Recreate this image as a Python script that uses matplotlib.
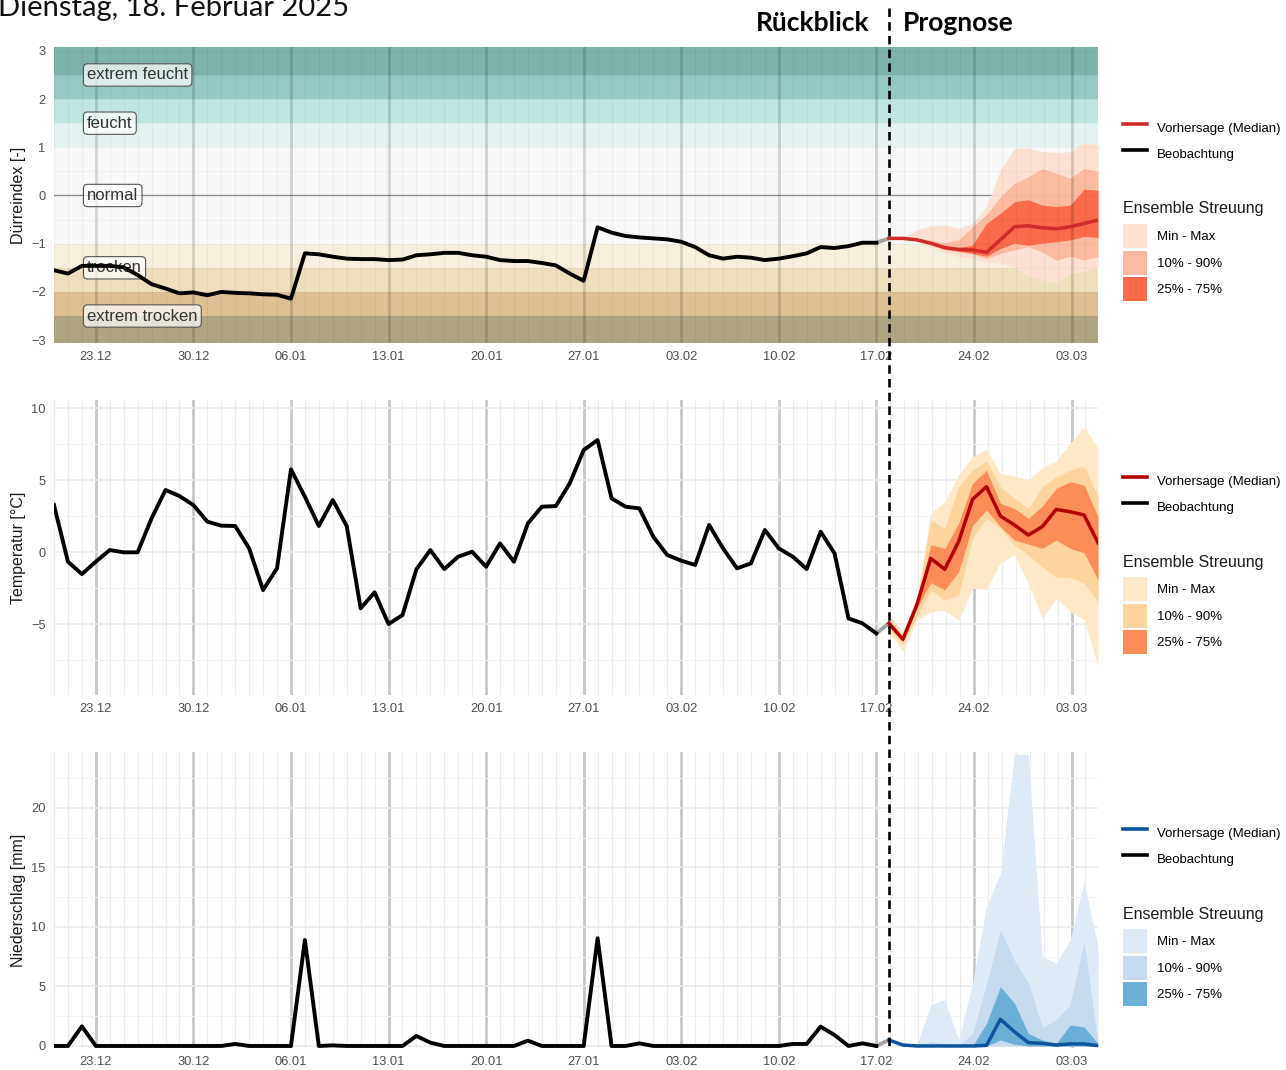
import matplotlib
matplotlib.use('Agg')
import matplotlib.pyplot as plt
import matplotlib.dates as mdates
import matplotlib.transforms as mtransforms
from matplotlib.lines import Line2D
from matplotlib.patches import Patch
import pandas as pd

plt.rcParams['font.family'] = ['Liberation Sans', 'DejaVu Sans']

W, H = 1286, 1070

# --- Daten ---
obs_dates = pd.date_range('2024-12-20', '2025-02-17', freq='D')
fc_dates = pd.date_range('2025-02-17 21:36', periods=16, freq='D')

# Dürreindex
spei_obs = [-1.55, -1.62, -1.46, -1.46, -1.46, -1.49, -1.65, -1.84, -1.93, -2.03,
            -2.01, -2.07, -2.00, -2.02, -2.03, -2.05, -2.06, -2.14, -1.20, -1.22,
            -1.27, -1.31, -1.32, -1.32, -1.34, -1.33, -1.24, -1.22, -1.19, -1.19,
            -1.24, -1.27, -1.34, -1.36, -1.36, -1.40, -1.45, -1.62, -1.77, -0.66,
            -0.77, -0.84, -0.87, -0.89, -0.91, -0.96, -1.07, -1.24, -1.31, -1.27,
            -1.29, -1.34, -1.31, -1.26, -1.20, -1.07, -1.09, -1.05, -0.98, -0.98]
spei_med = [-0.89, -0.89, -0.92, -0.99, -1.08, -1.12, -1.13, -1.18, -0.92, -0.65, -0.63, -0.67, -0.69, -0.65, -0.58, -0.51]
spei_min = [-0.90, -0.92, -0.96, -1.06, -1.19, -1.27, -1.31, -1.38, -1.38, -1.51, -1.68, -1.75, -1.82, -1.62, -1.58, -1.48]
spei_max = [-0.88, -0.86, -0.72, -0.63, -0.61, -0.68, -0.58, -0.23, 0.53, 0.98, 0.98, 0.91, 0.89, 0.91, 1.10, 1.05]
spei_q10 = [-0.895, -0.90, -0.94, -1.03, -1.13, -1.17, -1.21, -1.31, -1.20, -1.13, -1.06, -1.17, -1.34, -1.26, -1.34, -1.27]
spei_q90 = [-0.885, -0.88, -0.89, -0.93, -0.98, -0.92, -0.65, -0.40, -0.02, 0.25, 0.39, 0.56, 0.46, 0.36, 0.56, 0.50]
spei_q25 = [-0.893, -0.895, -0.93, -1.01, -1.11, -1.15, -1.20, -1.26, -1.10, -0.99, -1.03, -0.99, -0.96, -0.92, -0.85, -0.87]
spei_q75 = [-0.887, -0.885, -0.91, -0.97, -1.05, -1.08, -1.03, -0.58, -0.37, -0.13, -0.09, -0.20, -0.23, -0.20, 0.13, 0.11]

# Temperatur
temp_obs = [3.26, -0.67, -1.53, -0.67, 0.14, -0.02, -0.02, 2.34, 4.31, 3.89,
            3.26, 2.11, 1.83, 1.81, 0.25, -2.64, -1.13, 5.74, 3.84, 1.81,
            3.61, 1.81, -3.91, -2.80, -5.00, -4.38, -1.20, 0.14, -1.18, -0.32,
            0.02, -1.02, 0.60, -0.67, 1.99, 3.15, 3.19, 4.77, 7.08, 7.78,
            3.73, 3.15, 3.03, 1.06, -0.21, -0.60, -0.90, 1.88, 0.25, -1.13,
            -0.79, 1.53, 0.25, -0.32, -1.18, 1.41, -0.09, -4.61, -4.95, -5.65]
temp_med = [-4.95, -6.06, -3.68, -0.44, -1.20, 0.72, 3.66, 4.54, 2.50, 1.88, 1.18, 1.76, 2.96, 2.80, 2.57, 0.65]
temp_min = [-5.6, -6.9, -4.72, -4.14, -4.07, -4.72, -2.52, -2.59, -0.74, -0.21, -2.18, -4.61, -3.22, -4.14, -4.72, -7.96]
temp_max = [-4.3, -5.6, -3.10, 2.69, 3.50, 5.35, 6.62, 7.13, 5.46, 5.28, 5.00, 5.88, 6.34, 7.55, 8.70, 7.20]
temp_q10 = [-5.4, -6.4, -4.49, -2.64, -3.33, -2.99, 1.00, 2.34, 1.64, 0.49, -0.21, -1.02, -1.76, -1.76, -2.18, -3.45]
temp_q90 = [-4.5, -5.8, -3.45, 2.22, 1.64, 4.54, 5.69, 6.34, 4.54, 3.73, 3.03, 4.54, 5.23, 5.69, 5.97, 3.84]
temp_q25 = [-5.1, -6.2, -3.90, -2.13, -2.64, -1.37, 1.85, 2.92, 1.76, 0.83, 0.56, 0.25, 0.83, 0.25, -0.05, -1.94]
temp_q75 = [-4.8, -5.9, -3.55, 0.49, 0.25, 1.99, 4.77, 5.69, 3.38, 3.03, 2.34, 3.19, 4.42, 4.88, 4.65, 2.45]

# Niederschlag
prec_obs = [0, 0, 1.65, 0, 0, 0, 0, 0, 0, 0,
            0, 0, 0, 0.17, 0, 0, 0, 0, 8.9, 0,
            0.05, 0, 0, 0, 0, 0, 0.84, 0.28, 0, 0,
            0, 0, 0, 0, 0.45, 0, 0, 0, 0, 9.05,
            0, 0, 0.22, 0, 0, 0, 0, 0, 0, 0,
            0, 0, 0, 0.17, 0.17, 1.62, 0.92, 0, 0.22, 0]
prec_med = [0.5, 0.08, 0, 0, 0, 0, 0, 0.05, 2.24, 1.2, 0.28, 0.22, 0.08, 0.17, 0.17, 0.03]
prec_min = [0.4, 0, 0, 0, 0, 0, 0, 0, 0, 0, 0, 0, 0, 0, 0, 0]
prec_max = [0.78, 0.08, 0.08, 3.45, 3.92, 0.5, 5.3, 11.7, 14.5, 24.55, 24.45, 7.5, 6.95, 8.9, 13.8, 8.35]
prec_q10 = [0.42, 0, 0, 0, 0, 0, 0, 0, 0, 0, 0, 0, 0, 0, 0, 0]
prec_q90 = [0.7, 0.1, 0, 0.36, 0.2, 0, 1.06, 5.2, 9.75, 7.2, 5.3, 1.6, 2.2, 3.45, 8.77, 0.2]
prec_q25 = [0.45, 0.03, 0, 0, 0, 0, 0, 0, 0.5, 0.15, 0, 0, 0, 0, 0, 0]
prec_q75 = [0.6, 0.1, 0, 0, 0, 0, 0, 1.9, 4.99, 3.6, 1.06, 0.5, 0.2, 1.76, 1.6, 0.2]

# Klassen des Dürreindex
band_edges = [-10, -2.5, -2, -1.5, -1, 1, 1.5, 2, 2.5, 10]
band_colors = ['#b0a582', '#dfbf94', '#efe0bd', '#f8f0de', '#f8f8f8',
               '#e2f3f1', '#c0e6e1', '#96c9c3', '#7db3ab']
class_labels = ['extrem feucht', 'feucht', 'normal', 'trocken', 'extrem trocken']
class_levels = [2.5, 1.5, 0, -1.5, -2.5]

band_labels = ['Min - Max', '10% - 90%', '25% - 75%']


def px_rect(left, top, right, bottom):
    return [left / W, 1 - bottom / H, (right - left) / W, (bottom - top) / H]


def style_axis(ax, ylim, yticks, yminor, ylabel, on_top=False):
    ax.set_xlim(obs_dates[0], fc_dates[-1])
    ax.set_ylim(*ylim)
    ax.xaxis.set_major_locator(mdates.WeekdayLocator(byweekday=mdates.MO))
    ax.xaxis.set_minor_locator(mdates.DayLocator())
    ax.xaxis.set_major_formatter(mdates.DateFormatter('%d.%m'))
    ax.set_yticks(yticks)
    ax.set_yticks(yminor, minor=True)
    for s in ax.spines.values():
        s.set_visible(False)
    ax.tick_params(which='both', length=0, labelsize=9.3, colors='#4d4d4d')
    ax.tick_params(axis='x', pad=6)
    ax.tick_params(axis='y', pad=6)
    ax.set_ylabel(ylabel, fontsize=11.5, color='#1a1a1a')
    ax.yaxis.set_label_coords(-0.027, 0.5)
    if on_top:
        # Gitter liegt halbtransparent über den Klassenbändern
        ax.set_axisbelow(False)
        ax.grid(True, axis='x', which='major', color='black', alpha=0.15, lw=2.0)
        ax.grid(True, axis='x', which='minor', color='black', alpha=0.045, lw=0.8)
        ax.grid(True, axis='y', which='both', color='black', alpha=0.035, lw=0.8)
    else:
        ax.set_axisbelow(True)
        ax.grid(True, axis='x', which='major', color='#c6c6c6', lw=2.0)
        ax.grid(True, axis='x', which='minor', color='#ececec', lw=0.8)
        ax.grid(True, axis='y', which='major', color='#ebebeb', lw=1.1)
        ax.grid(True, axis='y', which='minor', color='#f3f3f3', lw=0.7)


def draw_series(ax, obs, fmin, fmax, f10, f90, f25, f75, fmed, colors, med_color):
    ax.fill_between(fc_dates, fmin, fmax, color=colors[0], lw=0, zorder=1)
    ax.fill_between(fc_dates, f10, f90, color=colors[1], lw=0, zorder=1.1)
    ax.fill_between(fc_dates, f25, f75, color=colors[2], lw=0, zorder=1.2)
    ax.plot([obs_dates[-1], fc_dates[0]], [obs[-1], fmed[0]], color='#a3a3a3', lw=2.8, zorder=3)
    ax.plot(obs_dates, obs, color='black', lw=2.8, zorder=3)
    ax.plot(fc_dates, fmed, color=med_color, lw=2.5, zorder=3.1)


def add_legends(panel_top, colors, med_color):
    lines = [Line2D([], [], color=med_color, lw=2.6), Line2D([], [], color='black', lw=2.6)]
    fig.legend(lines, ['Vorhersage (Median)', 'Beobachtung'], loc='upper left',
               bbox_to_anchor=(1123 / W, 1 - (panel_top + 68.5) / H), frameon=False,
               fontsize=9.5, handlelength=1.85, handleheight=2.42, labelspacing=0.19,
               handletextpad=0.75, borderpad=0, borderaxespad=0)
    fig.text(1123 / W, 1 - (panel_top + 162) / H, 'Ensemble Streuung', fontsize=11.5,
             color='#1a1a1a', ha='left', va='center')
    patches = [Patch(facecolor=c, edgecolor='none') for c in colors]
    fig.legend(patches, band_labels, loc='upper left',
               bbox_to_anchor=(1123 / W, 1 - (panel_top + 177.3) / H), frameon=False,
               fontsize=9.5, handlelength=1.85, handleheight=2.42, labelspacing=0.19,
               handletextpad=0.75, borderpad=0, borderaxespad=0)


fig = plt.figure(figsize=(W / 100, H / 100), dpi=100)
ax1 = fig.add_axes(px_rect(54, 47, 1098, 343))
ax2 = fig.add_axes(px_rect(54, 400, 1098, 695))
ax3 = fig.add_axes(px_rect(54, 752, 1098, 1048))

# Panel 1: Dürreindex
for lo, hi, c in zip(band_edges[:-1], band_edges[1:], band_colors):
    ax1.axhspan(lo, hi, color=c, lw=0, zorder=0.1)
ax1.axhline(0, color='#8a8a8a', lw=0.9, zorder=0.5)
label_x = pd.Timestamp('2024-12-22 09:00')
for lab, lev in zip(class_labels, class_levels):
    ax1.text(label_x, lev, lab, fontsize=12, color='#333333', ha='left', va='center', zorder=2.7,
             bbox=dict(boxstyle='round,pad=0.22,rounding_size=0.25', fc=(1, 1, 1, 0.7),
                       ec='#555555', lw=0.8))
spei_colors = ['#fde0d2', '#fcbba1', '#fb6a4a']
draw_series(ax1, spei_obs, spei_min, spei_max, spei_q10, spei_q90, spei_q25, spei_q75,
            spei_med, spei_colors, '#d12a2a')
style_axis(ax1, (-3.06, 3.08), [-3, -2, -1, 0, 1, 2, 3], [-2.5, -1.5, -0.5, 0.5, 1.5, 2.5],
           'Dürreindex [-]', on_top=True)

# Panel 2: Temperatur
temp_colors = ['#fee8c8', '#fdd49e', '#fc8d59']
draw_series(ax2, temp_obs, temp_min, temp_max, temp_q10, temp_q90, temp_q25, temp_q75,
            temp_med, temp_colors, '#b30000')
style_axis(ax2, (-9.93, 10.56), [-5, 0, 5, 10], [-7.5, -2.5, 2.5, 7.5], 'Temperatur [°C]')

# Panel 3: Niederschlag
prec_colors = ['#deebf7', '#c6dbef', '#6baed6']
draw_series(ax3, prec_obs, prec_min, prec_max, prec_q10, prec_q90, prec_q25, prec_q75,
            prec_med, prec_colors, '#0b559f')
style_axis(ax3, (-0.17, 24.7), [0, 5, 10, 15, 20], [2.5, 7.5, 12.5, 17.5, 22.5], 'Niederschlag [mm]')

add_legends(47, spei_colors, '#d12a2a')
add_legends(400, temp_colors, '#b30000')
add_legends(752, prec_colors, '#0b559f')

# Trennlinie Rückblick / Prognose über alle Panels
blend = mtransforms.blended_transform_factory(ax1.transData, fig.transFigure)
x0 = mdates.date2num(fc_dates[0])
fig.add_artist(Line2D([x0, x0], [1 - 8 / H, 1 - 1050 / H], transform=blend, color='black',
                      lw=1.9, linestyle=(0, (3.2, 2.0))))

fig.text(-2 / W, 1 - 16 / H, 'Dienstag, 18. Februar 2025', fontsize=21, family='Lato',
         ha='left', va='baseline', color='#111111')
fig.text(870 / W, 1 - 31 / H, 'Rückblick', fontsize=19, family='Lato', weight='bold',
         ha='right', va='baseline')
fig.text(903 / W, 1 - 31 / H, 'Prognose', fontsize=19, family='Lato', weight='bold',
         ha='left', va='baseline')

fig.savefig('out.png', dpi=100)
